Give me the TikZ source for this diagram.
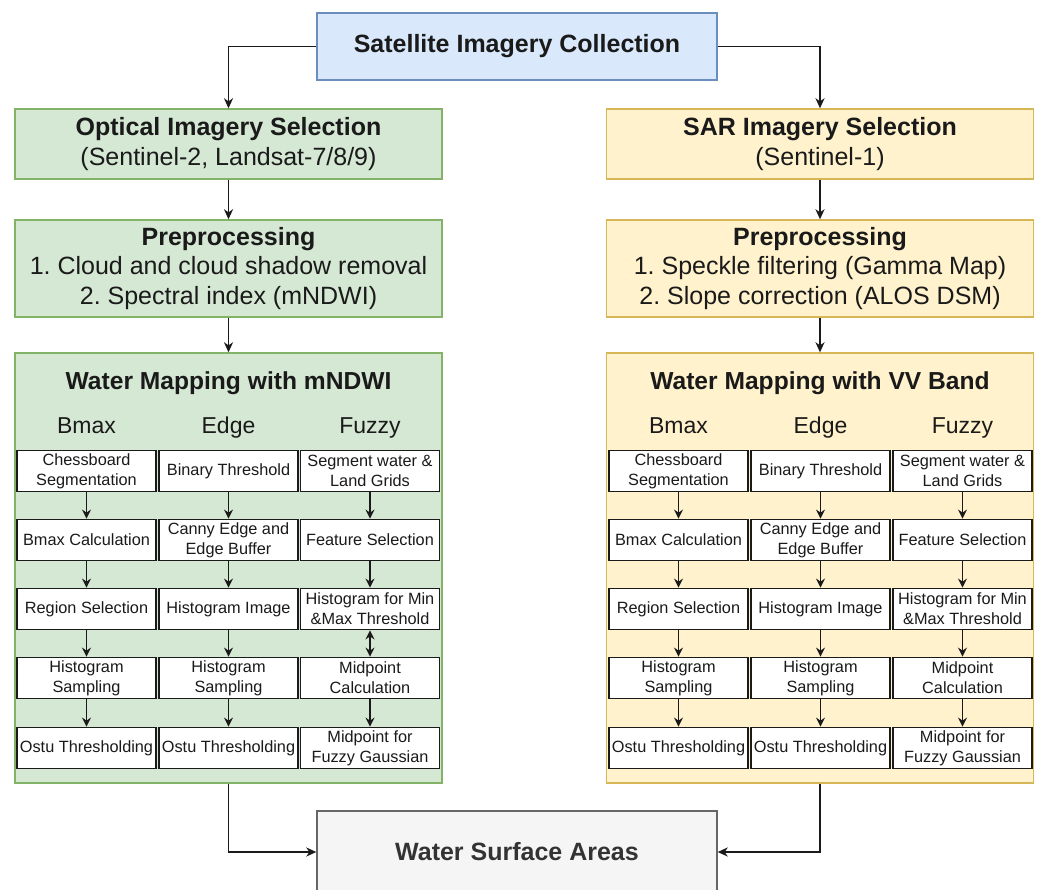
\documentclass[tikz,border=0pt]{standalone}
\usepackage{fontspec}
\setmainfont{Liberation Sans}
\usetikzlibrary{arrows.meta}
\frenchspacing

\definecolor{skyFill}{HTML}{DAE8FC}
\definecolor{skyLine}{HTML}{6C8EBF}
\definecolor{leafFill}{HTML}{D5E8D4}
\definecolor{leafLine}{HTML}{82B366}
\definecolor{sandFill}{HTML}{FFF2CC}
\definecolor{sandLine}{HTML}{D6B656}
\definecolor{ashFill}{HTML}{F5F5F5}
\definecolor{ashLine}{HTML}{666666}
\definecolor{inkDark}{HTML}{1A1A1A}
\definecolor{inkGray}{HTML}{333333}

% one column set of method steps inside a mapping panel
\newcommand\methodboxes[4]{%
  \node[stepbox] (#1-1-1) at (#2,471) {Chessboard\\Segmentation};
  \node[stepbox] (#1-1-2) at (#2,540) {Bmax Calculation};
  \node[stepbox] (#1-1-3) at (#2,609) {Region Selection};
  \node[stepbox] (#1-1-4) at (#2,678) {Histogram\\Sampling};
  \node[stepbox] (#1-1-5) at (#2,748) {Ostu Thresholding};
  \node[stepbox] (#1-2-1) at (#3,471) {Binary Threshold};
  \node[stepbox] (#1-2-2) at (#3,540) {Canny Edge and\\Edge Buffer};
  \node[stepbox] (#1-2-3) at (#3,609) {Histogram Image};
  \node[stepbox] (#1-2-4) at (#3,678) {Histogram\\Sampling};
  \node[stepbox] (#1-2-5) at (#3,748) {Ostu Thresholding};
  \node[stepbox] (#1-3-1) at (#4,471) {Segment water \&\\Land Grids};
  \node[stepbox] (#1-3-2) at (#4,540) {Feature Selection};
  \node[stepbox] (#1-3-3) at (#4,609) {Histogram for Min\\\&Max Threshold};
  \node[stepbox] (#1-3-4) at (#4,678) {Midpoint\\Calculation};
  \node[stepbox] (#1-3-5) at (#4,748) {Midpoint for\\Fuzzy Gaussian};
  \node[colhead] (#1-h1) at (#2,427) {Bmax};
  \node[colhead] (#1-h2) at (#3,427) {Edge};
  \node[colhead] (#1-h3) at (#4,427) {Fuzzy};
}

\begin{document}
\begin{tikzpicture}[x=1pt,y=-1pt,
  stage/.style={draw, line width=1.4pt, inner sep=0pt, align=center,
    text=inkDark, font=\fontsize{25}{29.5}\selectfont},
  ptitle/.style={inner sep=0pt, text=inkDark, font=\fontsize{24.6}{29}\selectfont\bfseries},
  colhead/.style={inner sep=0pt, text height=17pt, text depth=5pt, text=inkDark,
    font=\fontsize{23}{27}\selectfont},
  stepbox/.style={draw=inkDark, line width=1.8pt, fill=white, minimum width=139pt,
    minimum height=41pt, inner sep=0pt, align=center, text=inkDark,
    font=\fontsize{16.3}{20}\selectfont},
  flow/.style={draw=inkDark, line width=1.6pt, -{Stealth[length=10pt,width=9pt,inset=3pt]}},
  sflow/.style={draw=inkDark, line width=1.6pt, -{Stealth[length=9pt,width=9pt,inset=3pt]}},
  dflow/.style={draw=inkDark, line width=1.6pt, {Stealth[length=9pt,width=9pt,inset=3pt]}-{Stealth[length=9pt,width=9pt,inset=3pt]}}
]
\clip (0,0) rectangle (1038,889);
\fill[white] (0,0) rectangle (1038,889);

% source
\node[stage, fill=skyFill, draw=skyLine, minimum width=400pt, minimum height=67pt]
  (sat) at (517,46.5) {\bfseries Satellite Imagery Collection};

% optical branch
\node[stage, fill=leafFill, draw=leafLine, minimum width=427pt, minimum height=70pt]
  (opt) at (228.5,144) {\textbf{Optical Imagery Selection}\\(Sentinel-2, Landsat-7/8/9)};
\node[stage, fill=leafFill, draw=leafLine, minimum width=427pt, minimum height=97pt]
  (preL) at (228.5,268.5) {\textbf{Preprocessing}\\1. Cloud and cloud shadow removal\\2. Spectral index (mNDWI)};
\node[stage, fill=leafFill, draw=leafLine, minimum width=427pt, minimum height=430pt]
  (wmL) at (228.5,568) {};
\node[ptitle] (wmLt) at (228.5,383) {Water Mapping with mNDWI};

% SAR branch
\node[stage, fill=sandFill, draw=sandLine, minimum width=427pt, minimum height=70pt]
  (sar) at (820,144) {\textbf{SAR Imagery Selection}\\(Sentinel-1)};
\node[stage, fill=sandFill, draw=sandLine, minimum width=427pt, minimum height=97pt]
  (preR) at (820,268.5) {\textbf{Preprocessing}\\1. Speckle filtering (Gamma Map)\\2. Slope correction (ALOS DSM)};
\node[stage, fill=sandFill, draw=sandLine, minimum width=427pt, minimum height=430pt]
  (wmR) at (820,568) {};
\node[ptitle] (wmRt) at (820,383) {Water Mapping with VV Band};

% result
\node[stage, fill=ashFill, draw=ashLine, minimum width=400pt, minimum height=82pt,
  text=inkGray] (out) at (517,852) {\bfseries Water Surface Areas};

% method steps
\methodboxes{L}{86.5}{228.5}{370}
\methodboxes{R}{678.5}{820.5}{962.5}

% main flow
\draw[flow] (sat.west) -| (opt.north);
\draw[flow] (sat.east) -| (sar.north);
\draw[flow] (opt) -- (preL);
\draw[flow] (sar) -- (preR);
\draw[flow] (preL) -- (wmL);
\draw[flow] (preR) -- (wmR);
\draw[flow] (wmL.south) |- (out.west);
\draw[flow] (wmR.south) |- (out.east);

% step arrows
\foreach \p in {L,R}
  \foreach \c in {1,2}
    \foreach \r/\n in {1/2,2/3,3/4,4/5}
      \draw[sflow] (\p-\c-\r) -- (\p-\c-\n);
\foreach \r/\n in {1/2,2/3,4/5}
  \draw[sflow] (L-3-\r) -- (L-3-\n);
\draw[dflow] (L-3-3) -- (L-3-4);
\foreach \r/\n in {1/2,2/3,3/4,4/5}
  \draw[sflow] (R-3-\r) -- (R-3-\n);
\end{tikzpicture}
\end{document}
